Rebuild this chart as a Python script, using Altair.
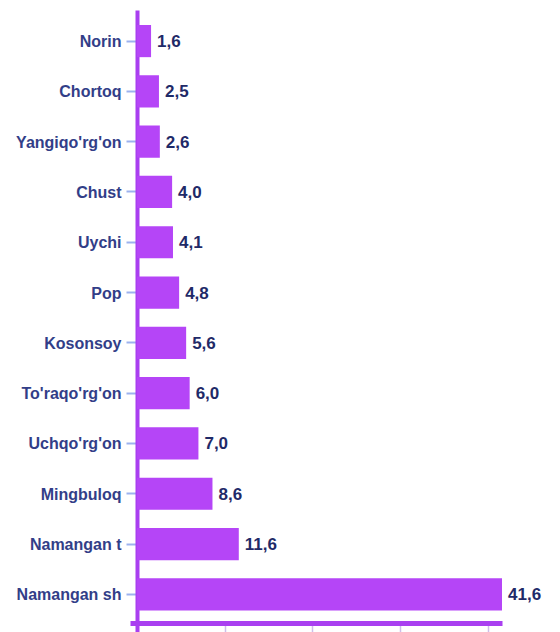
import altair as alt
import pandas as pd

districts = ["Norin", "Chortoq", "Yangiqo'rg'on", "Chust", "Uychi", "Pop",
             "Kosonsoy", "To'raqo'rg'on", "Uchqo'rg'on", "Mingbuloq",
             "Namangan t", "Namangan sh"]
shares = [1.6, 2.5, 2.6, 4.0, 4.1, 4.8, 5.6, 6.0, 7.0, 8.6, 11.6, 41.6]

df = pd.DataFrame({"district": districts, "share": shares})
df["label"] = [f"{v:.1f}".replace(".", ",") for v in shares]

BAR = "#b545f7"
AXIS = "#a93ff0"
LABEL = "#323e88"
VALUE = "#1f2a68"
FONT = "Liberation Sans"

y_enc = alt.Y(
    "district:N",
    sort=districts,
    title=None,
    scale=alt.Scale(paddingInner=0.36, paddingOuter=0.363, align=0.41),
    axis=alt.Axis(
        offset=-7,
        domainColor=AXIS,
        domainWidth=4,
        tickColor="#9db2ee",
        tickWidth=2,
        tickSize=11,
        labelPadding=5,
        labelOffset=1,
        labelFont=FONT,
        labelFontSize=16,
        labelFontWeight="bold",
        labelColor=LABEL,
        grid=False,
    ),
)

x_enc = alt.X(
    "share:Q",
    title=None,
    scale=alt.Scale(domain=[-0.8, 41.6], nice=False, zero=False),
    axis=alt.Axis(
        values=[10, 20, 30, 40],
        offset=-9,
        labels=False,
        domainColor=AXIS,
        domainWidth=5,
        tickColor="#cdbdea",
        tickWidth=1.5,
        tickSize=9,
        grid=False,
    ),
)

base = alt.Chart(df)

bars = base.mark_bar(color=BAR).encode(
    x=x_enc,
    x2=alt.datum(0),
    y=y_enc,
)

texts = base.mark_text(
    align="left", baseline="middle", dx=6, dy=1,
    font=FONT, fontSize=17, fontWeight="bold", color=VALUE,
).encode(
    x=alt.X("share:Q"),
    y=alt.Y("district:N", sort=districts),
    text="label:N",
)

chart = (
    alt.layer(bars, texts)
    .properties(
        width=372,
        height=622,
        background="white",
        autosize=alt.AutoSizeParams(type="none"),
        padding={"left": 122, "top": 2, "right": 50, "bottom": 0},
    )
    .configure_view(strokeWidth=0, stroke=None)
)

chart.save("out.html", embed_options={"renderer": "svg", "actions": False})
